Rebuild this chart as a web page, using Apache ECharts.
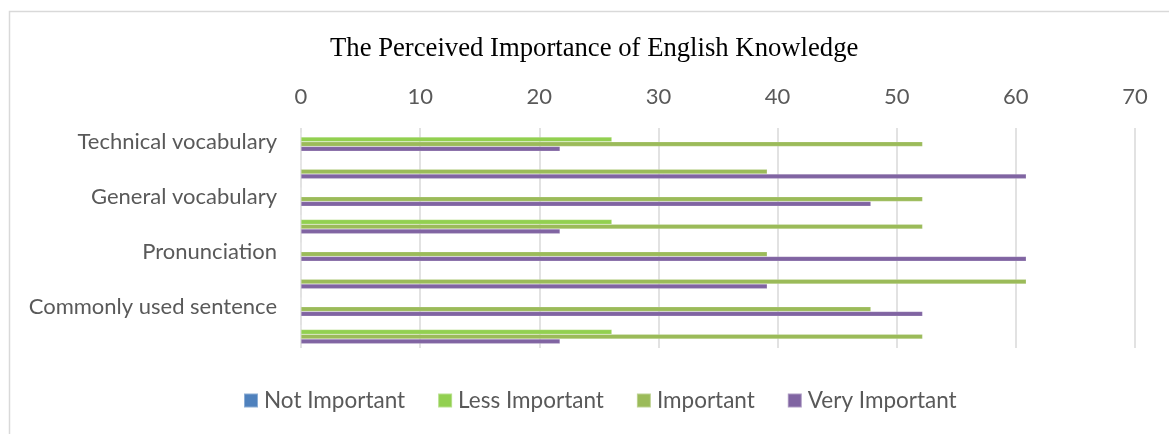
<!DOCTYPE html>
<html>
<head>
<meta charset="utf-8">
<script src="https://cdn.jsdelivr.net/npm/echarts@6/dist/echarts.min.js"></script>
<style>
html,body{margin:0;padding:0;background:#fff;}
#c{width:1169px;height:434px;}
</style>
</head>
<body>
<div id="c"></div>
<script>
const categories = ['Technical vocabulary', ' ', 'General vocabulary', '  ', 'Pronunciation', '   ', 'Commonly used sentence', '    '];
const seriesNames = ['Not Important', 'Less Important', 'Important', 'Very Important'];
const notImportant = [0, 0, 0, 0, 0, 0, 0, 0];
const lessImportant = [26.09, 0, 0, 26.09, 0, 0, 0, 26.09];
const important = [52.17, 39.13, 52.17, 52.17, 39.13, 60.87, 47.83, 52.17];
const veryImportant = [21.74, 60.87, 47.83, 21.74, 60.87, 39.13, 52.17, 21.74];
const xTicks = [0, 10, 20, 30, 40, 50, 60, 70];

const colors = ['#4F81BD', '#92D050', '#9BBB59', '#8064A2'];
const values = [notImportant, lessImportant, important, veryImportant];
const font = 'Lato, "Open Sans", sans-serif';

const chart = echarts.init(document.getElementById('c'), null, {renderer: 'canvas'});
chart.setOption({
  animation: false,
  backgroundColor: '#fff',
  color: colors,
  graphic: [{
    type: 'rect',
    shape: {x: 9.5, y: 11.5, width: 1300, height: 600},
    style: {fill: 'none', stroke: '#d9d9d9', lineWidth: 1.5},
    silent: true
  }],
  title: {
    text: 'The Perceived Importance of English Knowledge',
    left: 330,
    top: 35,
    padding: 0,
    textStyle: {fontFamily: '"Liberation Serif", "Times New Roman", serif', fontSize: 26.7, fontWeight: 'normal', color: '#000'}
  },
  legend: {
    data: seriesNames,
    bottom: 22,
    left: 243,
    padding: 0,
    icon: 'rect',
    itemWidth: 14,
    itemHeight: 14,
    itemGap: 32,
    textStyle: {fontFamily: font, fontSize: 22.5, color: '#595959', padding: [0, 0, 0, 1]}
  },
  grid: {left: 301, right: 34, top: 128, height: 220, containLabel: false},
  xAxis: {
    type: 'value',
    position: 'top',
    min: xTicks[0],
    max: xTicks[xTicks.length - 1],
    interval: 10,
    axisLine: {show: false},
    axisTick: {show: false},
    axisLabel: {fontFamily: font, fontSize: 22, color: '#595959', margin: 20},
    splitLine: {show: true, lineStyle: {color: '#d9d9d9', width: 1.5}}
  },
  yAxis: {
    type: 'category',
    inverse: true,
    data: categories,
    axisLine: {show: false},
    axisTick: {show: false},
    axisLabel: {interval: 0, fontFamily: font, fontSize: 22, color: '#595959', margin: 24}
  },
  series: seriesNames.map((name, i) => ({
    name: name,
    type: 'bar',
    data: values[i],
    barWidth: 4.7,
    barGap: '0%',
    itemStyle: {color: colors[i], borderColor: 'rgba(255,255,255,0.35)', borderWidth: 0.5}
  }))
});
</script>
</body>
</html>
